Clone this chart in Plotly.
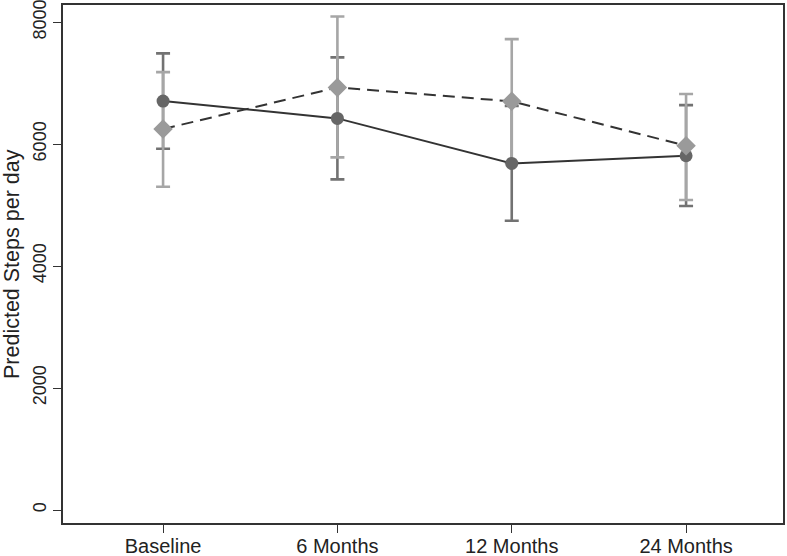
import plotly.graph_objects as go

categories = ["Baseline", "6 Months", "12 Months", "24 Months"]
x_pos = [0, 1, 2, 3]

# Series A (dark circles, solid line)
a_mean = [6705, 6421, 5683, 5808]
a_lower = [5923, 5421, 4743, 4984]
a_upper = [7487, 7421, 6623, 6639]

# Series B (light diamonds, dashed line)
b_mean = [6246, 6929, 6700, 5972]
b_lower = [5300, 5782, 5689, 5082]
b_upper = [7180, 8092, 7721, 6820]

y_ticks = [0, 2000, 4000, 6000, 8000]

FONT = "Liberation Sans, Arial, sans-serif"

def err(mean, lo, hi, color):
    return dict(type="data", symmetric=False,
                array=[h - m for m, h in zip(mean, hi)],
                arrayminus=[m - l for m, l in zip(mean, lo)],
                color=color, thickness=2.6, width=7)

fig = go.Figure()
fig.add_trace(go.Scatter(x=x_pos, y=a_mean, mode="markers",
                         marker=dict(size=1, opacity=0),
                         error_y=err(a_mean, a_lower, a_upper, "#727272"),
                         showlegend=False, hoverinfo="skip"))
fig.add_trace(go.Scatter(x=x_pos, y=b_mean, mode="markers",
                         marker=dict(size=1, opacity=0),
                         error_y=err(b_mean, b_lower, b_upper, "#a6a6a6"),
                         showlegend=False, hoverinfo="skip"))
fig.add_trace(go.Scatter(x=x_pos, y=a_mean, mode="lines+markers",
                         line=dict(color="#333333", width=2),
                         marker=dict(symbol="circle", size=13, color="#666666"),
                         showlegend=False))
fig.add_trace(go.Scatter(x=x_pos, y=b_mean, mode="lines+markers",
                         line=dict(color="#333333", width=2, dash="12px,7px"),
                         marker=dict(symbol="diamond", size=15, color="#9a9a9a"),
                         showlegend=False))

fig.update_layout(
    width=787, height=556,
    margin=dict(l=63, r=4, t=5, b=33, autoexpand=False),
    paper_bgcolor="white", plot_bgcolor="white",
    font=dict(family=FONT, color="#222222"),
    showlegend=False,
    xaxis=dict(range=[-0.574, 3.556], tickmode="array", tickvals=x_pos,
               ticktext=categories, ticks="outside", ticklen=8, tickwidth=1.3,
               tickcolor="#333333", showline=True, linecolor="#333333",
               linewidth=1.6, mirror=True, showgrid=False, zeroline=False,
               automargin=False, ticklabeloverflow="allow",
               ticklabelstandoff=-4,
               tickfont=dict(size=20, family=FONT, color="#222222")),
    yaxis=dict(range=[-213, 8280], tickmode="array", tickvals=y_ticks,
               ticktext=[str(v) for v in y_ticks], ticks="outside", ticklen=8,
               tickwidth=1.3, tickcolor="#333333", tickangle=-90,
               showline=True, linecolor="#333333", linewidth=1.6, mirror=True,
               showgrid=False, zeroline=False, automargin=False,
               ticklabeloverflow="allow",
               tickfont=dict(size=18, family=FONT, color="#222222")),
    annotations=[dict(text="Predicted Steps per day", xref="paper", yref="paper",
                      x=-0.0708, y=0.5, xanchor="center", yanchor="middle",
                      textangle=-90, showarrow=False,
                      font=dict(size=21.5, family=FONT, color="#222222"))],
)

fig.write_html("out.html", config={"displayModeBar": False},
               post_script="document.body.style.margin='0';document.body.style.overflow='hidden';")
